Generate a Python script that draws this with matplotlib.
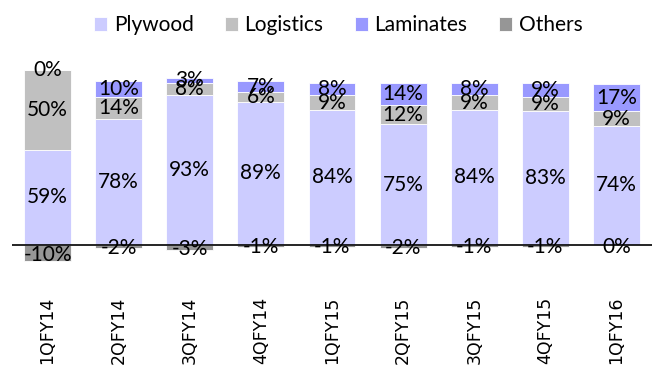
import matplotlib.pyplot as plt
import numpy as np

quarters = ['1QFY14', '2QFY14', '3QFY14', '4QFY14', '1QFY15',
            '2QFY15', '3QFY15', '4QFY15', '1QFY16']
plywood = [59, 78, 93, 89, 84, 75, 84, 83, 74]
logistics = [50, 14, 8, 6, 9, 12, 9, 9, 9]
laminates = [0, 10, 3, 7, 8, 14, 8, 9, 17]
others = [-10, -2, -3, -1, -1, -2, -1, -1, 0]

colors = {'Plywood': '#ccccff', 'Logistics': '#c0c0c0',
          'Laminates': '#9999ff', 'Others': '#969696'}

fig = plt.figure(figsize=(6.54, 3.67), dpi=100)
ax = fig.add_axes([0.0183, 0.267, 0.9786, 0.5695])

x = np.arange(len(quarters))
w = 0.66
lab_font = dict(family=['Lato', 'DejaVu Sans'], fontsize=15, color='black')

# positive stack
bottom = np.zeros(len(quarters))
for name, vals in [('Plywood', plywood), ('Logistics', logistics), ('Laminates', laminates)]:
    vals = np.array(vals, dtype=float)
    ax.bar(x, vals, w, bottom=bottom, color=colors[name], edgecolor='white',
           linewidth=0.6, label=name, zorder=2)
    for xi, b, v in zip(x, bottom, vals):
        ax.text(xi, b + v / 2, f'{int(v)}%', ha='center', va='center', **lab_font, zorder=4)
    bottom += vals

# negative part
oth = np.array(others, dtype=float)
ax.bar(x, oth, w, color=colors['Others'], edgecolor='white', linewidth=0.6,
       label='Others', zorder=2)
for xi, v in zip(x, oth):
    ax.text(xi, v / 2 - 1, f'{int(v)}%', ha='center', va='center', **lab_font, zorder=4)

ax.axhline(0, color='black', linewidth=1.2, zorder=3)
ax.set_xlim(-0.5, 8.5)
ax.set_ylim(-15, 115)

for s in ax.spines.values():
    s.set_visible(False)
ax.set_yticks([])
ax.set_xticks(x)
ax.set_xticklabels(quarters, rotation=90, fontsize=12.5, family='DejaVu Sans')
ax.tick_params(axis='x', length=0, pad=20)

leg = ax.legend(loc='upper center', bbox_to_anchor=(0.517, 1.01), bbox_transform=fig.transFigure,
                ncol=4, frameon=False, handlelength=0.65, handleheight=0.65,
                handletextpad=0.3, columnspacing=1.5,
                prop={'family': ['Lato', 'DejaVu Sans'], 'size': 15})

fig.savefig('out.png', dpi=100)
